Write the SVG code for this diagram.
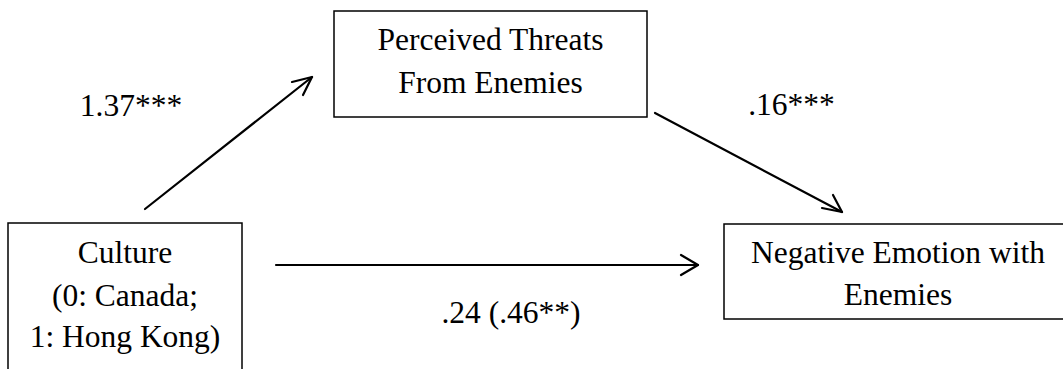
<svg xmlns="http://www.w3.org/2000/svg" width="1063" height="369" viewBox="0 0 1063 369">
<style>
.box{fill:#fff;stroke:#000;stroke-width:1.5}
.t{font-size:31.5px;fill:#000;text-anchor:middle}
.c{fill:none;stroke:#000;stroke-width:2.2;stroke-linecap:round;stroke-linejoin:round}
</style>
<rect width="1063" height="369" fill="#fff"/>
<g font-family="'Liberation Serif', 'Times New Roman', Times, serif">
<g id="culture">
<rect class="box" x="8" y="223" width="234" height="160"/>
<text class="t" x="125" y="263">Culture</text>
<text class="t" x="125" y="306">(0: Canada;</text>
<text class="t" x="125" y="347">1: Hong Kong)</text>
</g>
<g id="threats">
<rect class="box" x="334" y="11" width="313" height="106"/>
<text class="t" x="490.5" y="50">Perceived Threats</text>
<text class="t" x="490.5" y="93">From Enemies</text>
</g>
<g id="emotion">
<rect class="box" x="724" y="224" width="360" height="95"/>
<text class="t" x="898" y="263">Negative Emotion with</text>
<text class="t" x="898" y="305">Enemies</text>
</g>
<g id="connectors">
<line class="c" x1="145" y1="209" x2="312" y2="77"/>
<polyline class="c" points="292,82 312,77 303,95"/>
<line class="c" x1="655" y1="113" x2="842" y2="212"/>
<polyline class="c" points="822,208 842,212 833,195"/>
<line class="c" x1="276" y1="265" x2="698" y2="265"/>
<polyline class="c" points="681,255 698,265 681,275"/>
</g>
<g id="labels">
<text class="t" x="131" y="116">1.37***</text>
<text class="t" x="791.5" y="115">.16***</text>
<text class="t" x="511" y="323">.24 (.46**)</text>
</g>
</g>
</svg>
